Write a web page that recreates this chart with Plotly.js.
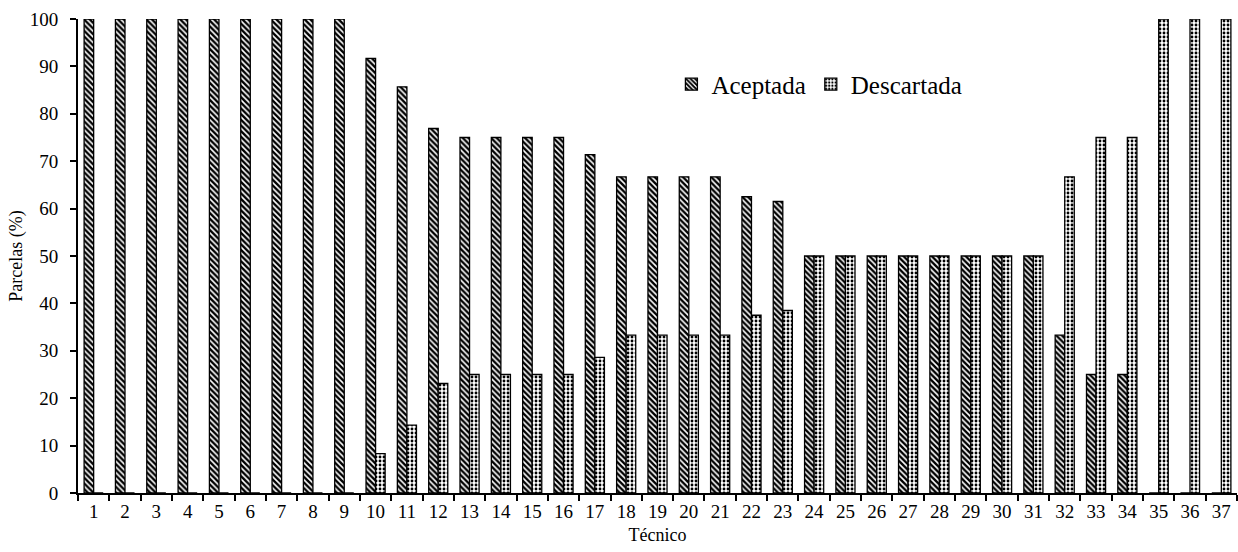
<!DOCTYPE html>
<html>
<head>
<meta charset="utf-8">
<script src="https://cdn.plot.ly/plotly-3.0.1.min.js"></script>
<style>html,body{margin:0;padding:0;background:#fff;}#chart{width:1238px;height:552px;}</style>
</head>
<body>
<div id="chart"></div>
<script>
const tecnicos = ["1","2","3","4","5","6","7","8","9","10","11","12","13","14","15","16","17","18","19","20","21","22","23","24","25","26","27","28","29","30","31","32","33","34","35","36","37"];
const aceptada = [100,100,100,100,100,100,100,100,100,91.7,85.7,76.9,75,75,75,75,71.4,66.7,66.7,66.7,66.7,62.5,61.5,50,50,50,50,50,50,50,50,33.3,25,25,0,0,0];
const descartada = [0,0,0,0,0,0,0,0,0,8.3,14.3,23.1,25,25,25,25,28.6,33.3,33.3,33.3,33.3,37.5,38.5,50,50,50,50,50,50,50,50,66.7,75,75,100,100,100];
const yTicks = [0,10,20,30,40,50,60,70,80,90,100];

const FONT = "Liberation Serif";

const traces = [
  {
    type: "bar", name: "Aceptada", x: tecnicos, y: aceptada,
    alignmentgroup: "g", offsetgroup: "a",
    marker: {
      color: "#ffffff",
      line: {color: "#000000", width: 1.3},
      pattern: {shape: "\\", fgcolor: "#000000", bgcolor: "#ffffff", size: 4, solidity: 0.6}
    }
  },
  {
    type: "bar", name: "Descartada", x: tecnicos, y: descartada, yaxis: "y2",
    alignmentgroup: "g", offsetgroup: "d",
    marker: {
      color: "#ffffff",
      line: {color: "#000000", width: 1.3},
      pattern: {shape: ".", fgcolor: "#000000", bgcolor: "#ffffff", size: 4, solidity: 0.4}
    }
  }
];

const layout = {
  width: 1238, height: 552,
  margin: {l: 78, r: 1, t: 19, b: 59},
  paper_bgcolor: "#ffffff", plot_bgcolor: "#ffffff",
  font: {family: FONT, color: "#000000", size: 19},
  barmode: "group", bargap: 0.39, bargroupgap: 0,
  showlegend: true,
  legend: {
    orientation: "h", x: 0.512, y: 0.862, xanchor: "left", yanchor: "middle",
    font: {family: FONT, size: 25, color: "#000000"},
    bgcolor: "rgba(0,0,0,0)", itemclick: false
  },
  xaxis: {
    type: "category",
    title: {text: "Técnico", font: {family: FONT, size: 18}, standoff: 8},
    showline: true, linecolor: "#000000", linewidth: 2,
    ticks: "outside", tickson: "boundaries", ticklen: 6, tickwidth: 2, tickcolor: "#000000",
    tickfont: {family: FONT, size: 19}, showgrid: false, zeroline: false
  },
  yaxis: {
    range: [0, 100], tickvals: yTicks, showticklabels: false,
    showline: true, linecolor: "#000000", linewidth: 2,
    ticks: "outside", ticklen: 6, tickwidth: 2, tickcolor: "#000000",
    showgrid: false, zeroline: false
  },
  yaxis2: {
    overlaying: "y", side: "left", range: [0, 100], tickvals: yTicks,
    title: {text: "Parcelas (%)", font: {family: FONT, size: 18}, standoff: 2},
    showline: false, ticks: "outside", ticklen: 15, tickwidth: 1, tickcolor: "rgba(0,0,0,0)",
    tickfont: {family: FONT, size: 19}, showgrid: false, zeroline: false
  }
};

Plotly.newPlot("chart", traces, layout, {displayModeBar: false, staticPlot: true});
</script>
</body>
</html>
